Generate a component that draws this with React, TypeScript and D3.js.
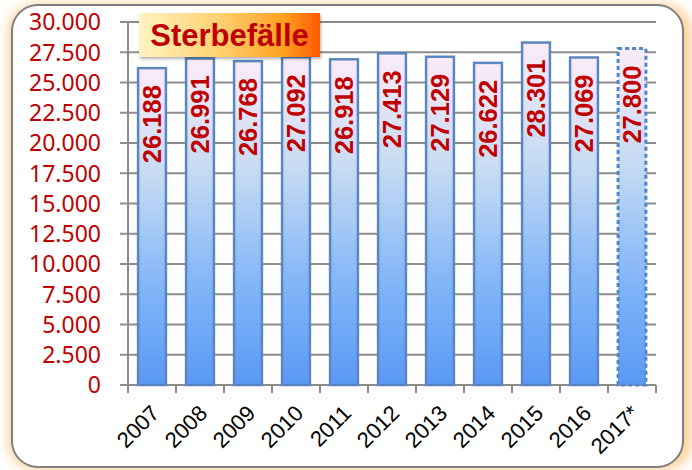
import React from 'react';
import * as d3 from 'd3';

const years = ['2007', '2008', '2009', '2010', '2011', '2012', '2013', '2014', '2015', '2016', '2017*'];
const deaths = [26188, 26991, 26768, 27092, 26918, 27413, 27129, 26622, 28301, 27069, 27800];
const estimated = [false, false, false, false, false, false, false, false, false, false, true];
const yTicks = [0, 2500, 5000, 7500, 10000, 12500, 15000, 17500, 20000, 22500, 25000, 27500, 30000];
const title = 'Sterbefälle';

const W = 692;
const H = 470;
const left = 128;
const right = 656;
const top = 22;
const bottom = 385;

const de = d3.formatLocale({decimal: ',', thousands: '.', grouping: [3], currency: ['', '€']});
const fmt = de.format(',.0f');

export default function App() {
  const x = d3.scaleBand<string>().domain(years).range([left, right]).paddingInner(0.42).paddingOuter(0.21);
  const y = d3.scaleLinear().domain([0, 30000]).range([bottom, top]);
  const step = x.step();

  return (
    <svg width={W} height={H} style={{position: 'absolute', left: 0, top: 0}}>
      <defs>
        <linearGradient id="barFill" x1="0" y1="0" x2="0" y2="1">
          <stop offset="0" stopColor="#fcebf8" />
          <stop offset="0.35" stopColor="#c4daf3" />
          <stop offset="0.7" stopColor="#80b4f8" />
          <stop offset="1" stopColor="#5a9af4" />
        </linearGradient>
        <linearGradient id="titleFill" x1="0" y1="0" x2="1" y2="0">
          <stop offset="0" stopColor="#fff4c0" />
          <stop offset="0.45" stopColor="#ffd070" />
          <stop offset="0.8" stopColor="#ffa020" />
          <stop offset="1" stopColor="#ff5a00" />
        </linearGradient>
        <filter id="glow" x="-10%" y="-10%" width="120%" height="120%">
          <feGaussianBlur stdDeviation="6" />
        </filter>
        <filter id="shadow" x="-10%" y="-20%" width="120%" height="150%">
          <feDropShadow dx="1" dy="2" stdDeviation="1.5" floodColor="#000" floodOpacity="0.3" />
        </filter>
      </defs>

      <rect x={0} y={0} width={W} height={H} fill="#ffffff" />
      <rect x={8} y={4} width={684} height={466} rx={28} fill="#fdd09a" filter="url(#glow)" />
      <rect x={12} y={5} width={671} height={462} rx={26} fill="#ffffff" stroke="#7f7f7f" strokeWidth={2} />

      {/* grid + y ticks */}
      {yTicks.map(t => (
        <g key={t}>
          <line x1={left - 8} x2={right} y1={y(t)} y2={y(t)} stroke="#8c8c8c" strokeWidth={2} />
          <text x={101} y={y(t)} dy="0.36em" textAnchor="end" fill="#c00000"
            style={{font: '23px "Noto Sans", sans-serif'}}>{fmt(t)}</text>
        </g>
      ))}
      <line x1={left} x2={left} y1={top} y2={bottom} stroke="#8c8c8c" strokeWidth={2} />
      {d3.range(years.length + 1).map(i => (
        <line key={i} x1={left + i * step} x2={left + i * step} y1={bottom} y2={bottom + 8} stroke="#8c8c8c" strokeWidth={2} />
      ))}

      {/* bars */}
      {years.map((yr, i) => {
        const bx = x(yr)!;
        const bw = x.bandwidth();
        const by = y(deaths[i]);
        const cx = bx + bw / 2;
        return (
          <g key={yr}>
            <rect x={bx} y={by} width={bw} height={bottom - by} fill="url(#barFill)"
              stroke={estimated[i] ? '#4f86c6' : '#5a87c0'} strokeWidth={estimated[i] ? 3 : 2.5}
              strokeDasharray={estimated[i] ? '4 3' : undefined} />
            <text transform={`translate(${cx},${by + 17}) rotate(-90)`} textAnchor="end" dy="0.36em"
              fill="#c00000" textLength={78} lengthAdjust="spacingAndGlyphs"
              style={{font: 'bold 26px "Liberation Sans", Arial, sans-serif'}}>{fmt(deaths[i])}</text>
            <text transform={`translate(${cx + 3},${bottom + 24}) rotate(-45)`} textAnchor="end" dy="0.36em"
              fill="#000" style={{font: '22px "Liberation Sans", Arial, sans-serif'}}>{yr}</text>
          </g>
        );
      })}

      {/* title */}
      <rect x={139} y={13} width={181} height={44} fill="url(#titleFill)" filter="url(#shadow)" />
      <text x={229.5} y={46} textAnchor="middle" fill="#c00000"
        style={{font: 'bold 31px "Liberation Sans", Arial, sans-serif'}}>{title}</text>
    </svg>
  );
}
